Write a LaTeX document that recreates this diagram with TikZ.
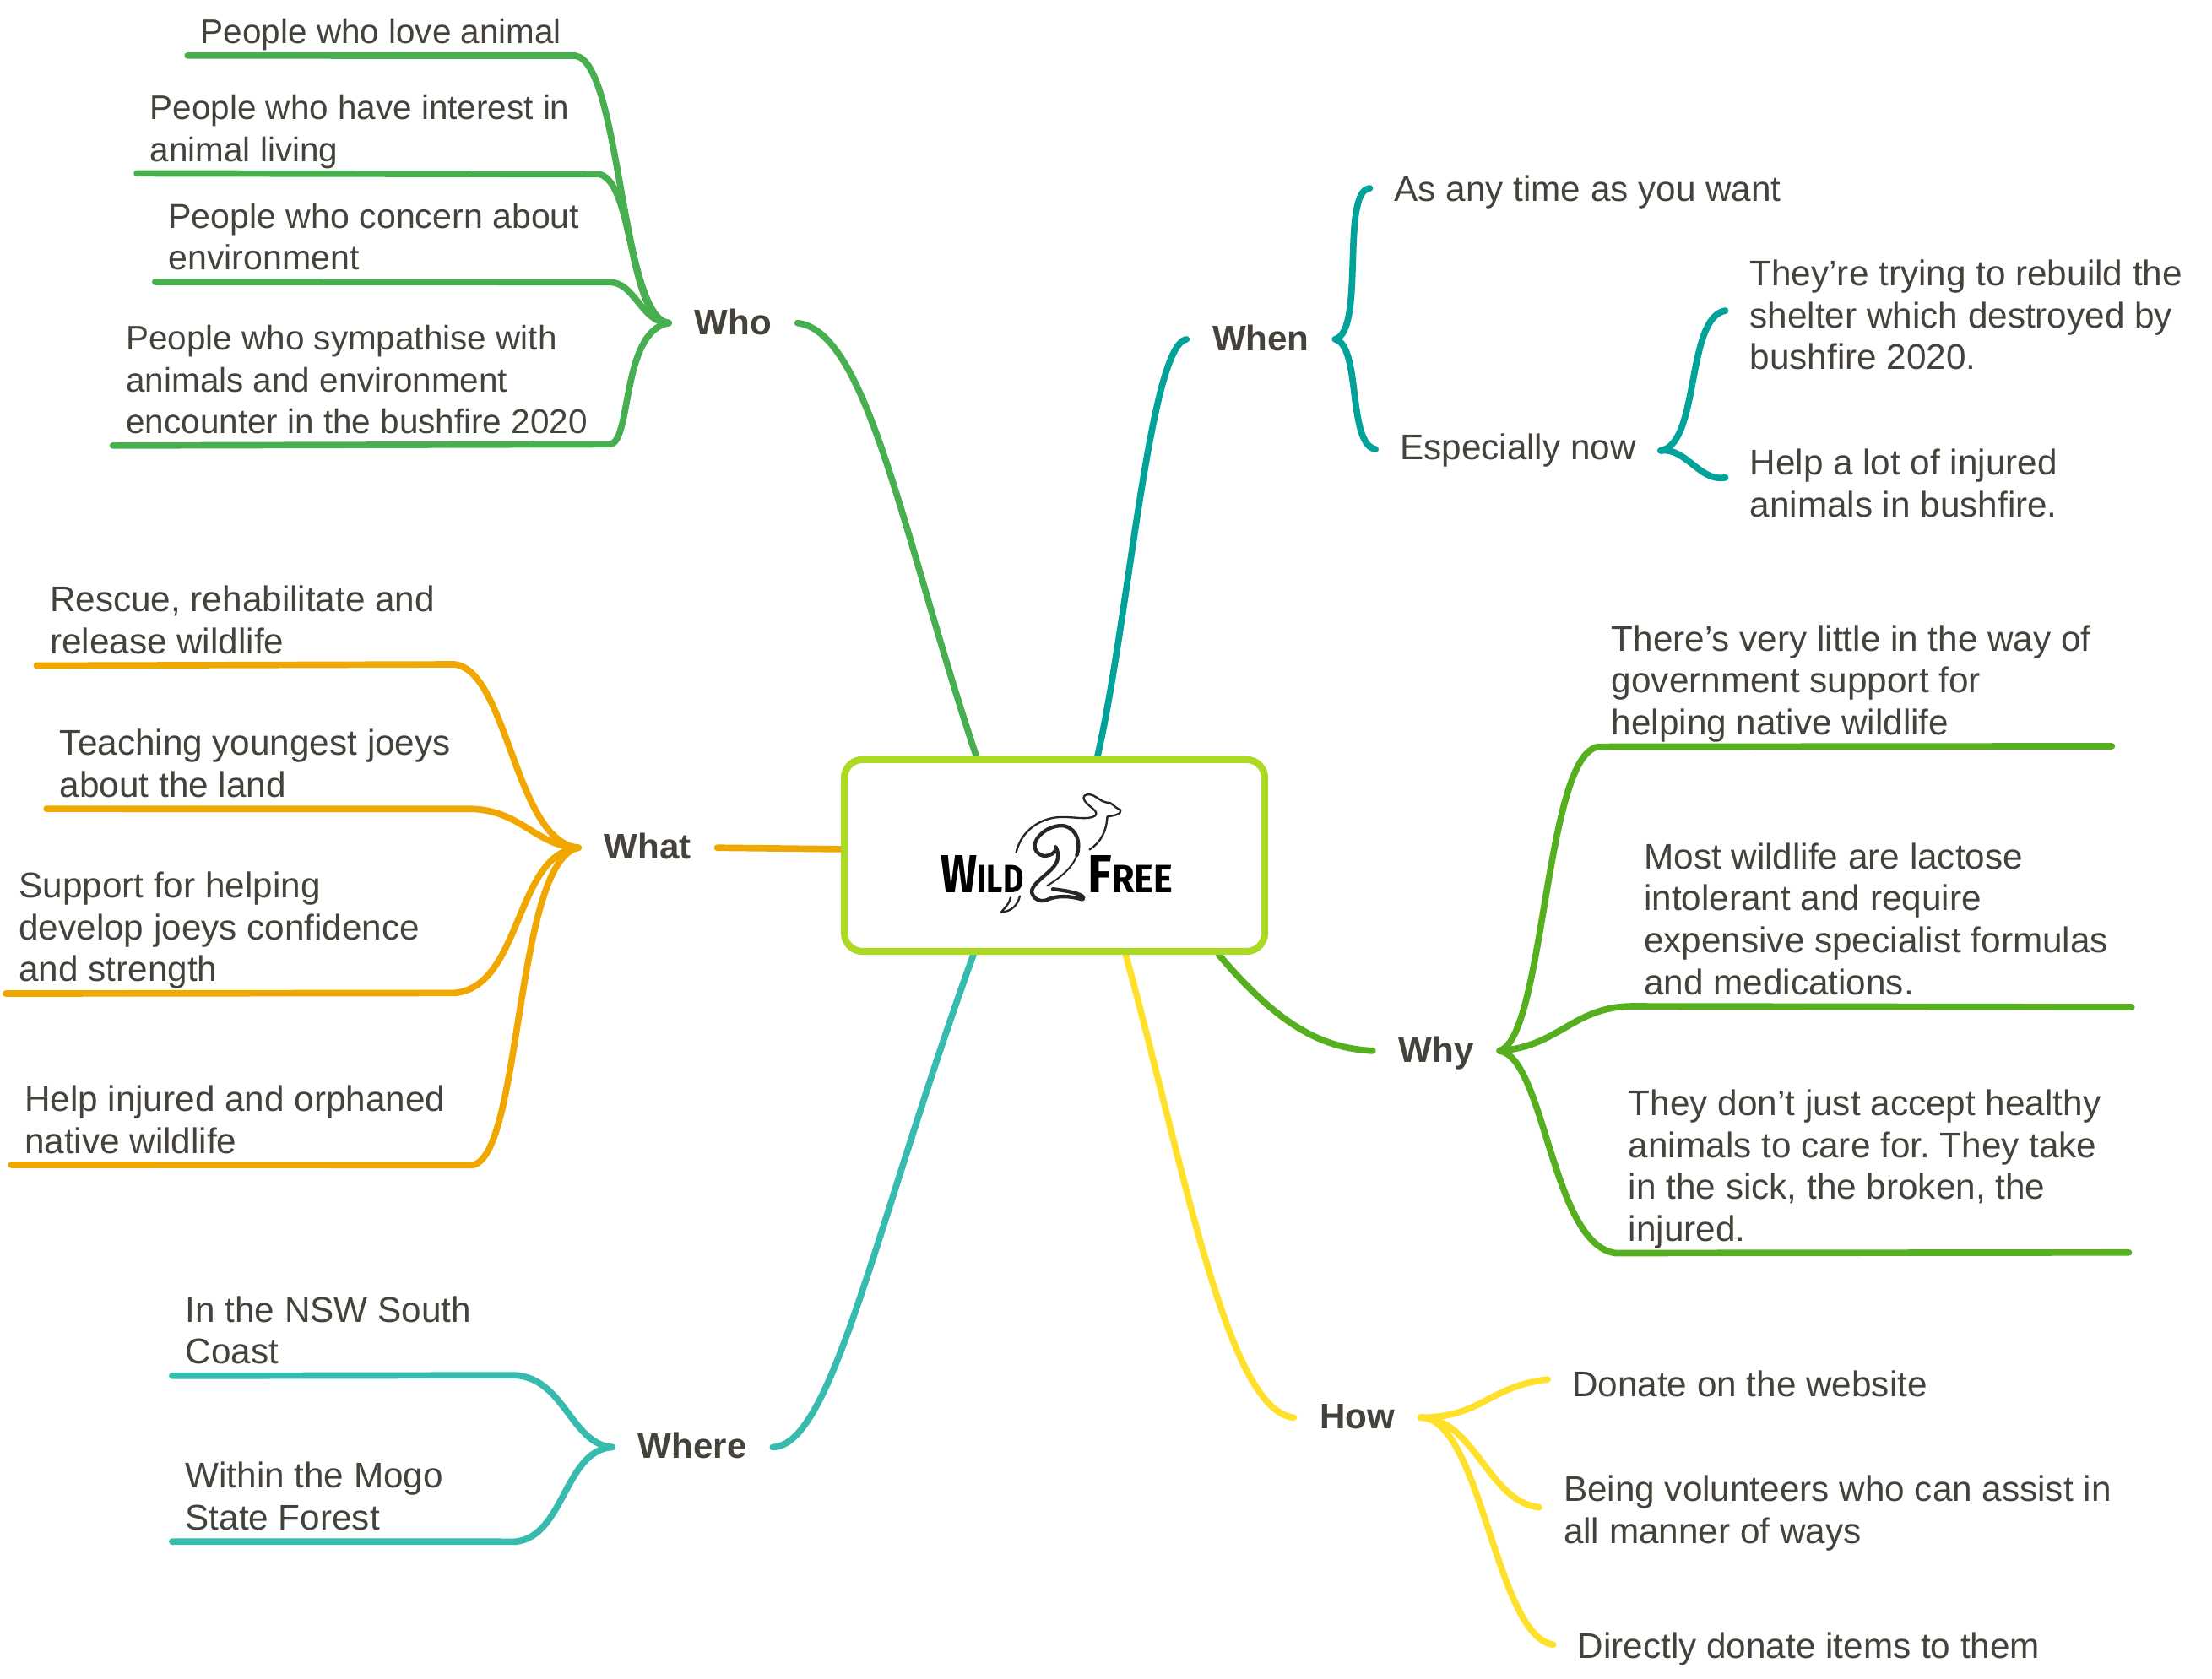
\documentclass[tikz,border=0pt]{standalone}
\usepackage{fontspec}
\setmainfont{Liberation Sans}
\newfontfamily\logofont{Fira Sans}
\usetikzlibrary{backgrounds}
\frenchspacing
\definecolor{txt}{HTML}{45423C}
\definecolor{cwho}{HTML}{48AF50}
\definecolor{cwhen}{HTML}{00A29A}
\definecolor{cwhat}{HTML}{F0A800}
\definecolor{cwhy}{HTML}{56AF1E}
\definecolor{cwhere}{HTML}{36BBAE}
\definecolor{chow}{HTML}{FFE12B}
\definecolor{croot}{HTML}{ABD924}
\tikzset{
  x=0.5pt,y=-0.5pt,
  leaf/.style={anchor=base west,align=left,inner xsep=4.5pt,inner ysep=0pt,text=txt,
    font=\fontsize{12.65}{14.85}\selectfont},
  whoLeaf/.style={leaf,font=\fontsize{12.1}{14.85}\selectfont},
  plainleaf/.style={leaf,inner xsep=8.5pt},
  topic/.style={anchor=base west,inner xsep=9pt,inner ysep=0pt,text height=11pt,text depth=3pt,
    text=txt,font=\fontsize{12.6}{14.85}\selectfont\bfseries},
  conn/.style={line width=2.3pt,line cap=round,line join=round},
  rootbox/.style={draw=croot,fill=white,line width=2.45pt,rounded corners=6.5pt,
    minimum width=149pt,minimum height=68pt,inner sep=0pt},
  ul/.style={yshift=-4.2pt}
}
\begin{document}
\begin{tikzpicture}
\useasboundingbox (0,0) rectangle (1568,1189.8);
% root
\node[rootbox] (root) at (747.5,606.5) {};
% logo
\begin{scope}[shift={(591.3,527.3)},x=0.1pt,y=-0.1pt]
  \node[anchor=base west,inner sep=0pt,text=black,xscale=0.8] (logoW) at (378,527)
    {\logofont\bfseries\fontsize{19}{19}\selectfont W\fontsize{14}{14}\selectfont ILD};
  \node[anchor=base west,inner sep=0pt,text=black,xscale=0.92] (logoF) at (898,527)
    {\logofont\bfseries\fontsize{19}{19}\selectfont F\fontsize{14}{14}\selectfont REE};
  \draw[line width=0.7pt,line cap=round,line join=round,color=black!85]
    (645,385) .. controls (665,300) and (740,262) .. (800,260)
    .. controls (850,258) and (900,272) .. (925,255)
    .. controls (940,240) and (905,225) .. (890,205)
    .. controls (875,185) and (890,175) .. (915,182)
    .. controls (935,190) and (945,205) .. (965,208)
    .. controls (985,205) and (990,225) .. (1015,235)
    .. controls (1020,250) and (990,255) .. (968,258)
    .. controls (965,310) and (945,350) .. (905,375);
  \draw[line width=1.3pt,line cap=round,line join=round,color=black!85]
    (745,398) .. controls (715,392) and (700,365) .. (720,335)
    .. controls (745,300) and (790,285) .. (820,292)
    .. controls (860,305) and (875,350) .. (860,395);
  \draw[line width=0.6pt,line cap=round,color=black!85]
    (860,395) .. controls (850,430) and (810,470) .. (755,503);
  \draw[line width=1.3pt,line cap=round,line join=round,color=black!85]
    (745,398) .. controls (770,395) and (790,385) .. (785,365)
    .. controls (800,395) and (795,420) .. (770,445)
    .. controls (745,470) and (700,500) .. (700,525)
    .. controls (705,550) and (730,562) .. (750,555)
    .. controls (790,535) and (840,540) .. (880,552)
    .. controls (895,540) and (860,525) .. (775,515);
  \draw[line width=0.7pt,line cap=round,line join=round,color=black!85]
    (625,545) .. controls (620,570) and (605,580) .. (592,597)
    .. controls (625,595) and (650,575) .. (658,540);
\end{scope}
% topics
\node[topic] (who) at (474,237) {Who};
\node[topic] (when) at (841,248.5) {When};
\node[topic] (what) at (410,609) {What};
\node[topic] (why) at (973,753) {Why};
\node[topic] (where) at (434,1034) {Where};
\node[topic] (how) at (917,1013) {How};
% who
\node[whoLeaf] (who1) at (133,31) {People who love animal};
\node[whoLeaf] (who2) at (97,114.5) {People who have interest in\\animal living};
\node[whoLeaf,font=\fontsize{12.3}{14.85}\selectfont] (who3) at (110,191.5) {People who concern about\\environment};
\node[whoLeaf] (who4) at (80,307.5) {People who sympathise with\\animals and environment\\encounter in the bushfire 2020};
% when
\node[plainleaf] (when1) at (971,143) {As any time as you want};
\node[plainleaf] (when2) at (975,326) {Especially now};
\node[plainleaf] (now1) at (1223,262) {They’re trying to rebuild the\\shelter which destroyed by\\bushfire 2020.};
\node[plainleaf] (now2) at (1223,366.5) {Help a lot of injured\\animals in bushfire.};
% what
\node[leaf] (what1) at (26,463.5) {Rescue, rehabilitate and\\release wildlife};
\node[leaf] (what2) at (33,565) {Teaching youngest joeys\\about the land};
\node[leaf] (what3) at (4,696) {Support for helping\\develop joeys confidence\\and strength};
\node[leaf] (what4) at (8,817.5) {Help injured and orphaned\\native wildlife};
% why
\node[leaf] (why1) at (1133,521) {There’s very little in the way of\\government support for\\helping native wildlife};
\node[leaf] (why2) at (1156,705) {Most wildlife are lactose\\intolerant and require\\expensive specialist formulas\\and medications.};
\node[leaf] (why3) at (1145,880) {They don’t just accept healthy\\animals to care for. They take\\in the sick, the broken, the\\injured.};
% where
\node[leaf] (where1) at (122,967) {In the NSW South\\Coast};
\node[leaf] (where2) at (122,1084.5) {Within the Mogo\\State Forest};
% how
\node[plainleaf] (how1) at (1097,990) {Donate on the website};
\node[plainleaf] (how2) at (1091,1094) {Being volunteers who can assist in\\all manner of ways};
\node[plainleaf] (how3) at (1101,1175.5) {Directly donate items to them};
\begin{scope}[on background layer]
% who
\draw[conn,cwho] (who.east) .. controls (615,235) and (640,380) .. ([xshift=-27.75pt]root.north);
\draw[conn,cwho] (who.west) .. controls (440,225) and (440,45) .. (408,39.5) -- ([ul]who1.base west);
\draw[conn,cwho] (who.west) .. controls (445,225) and (450,130) .. (425,123.5) -- ([ul]who2.base west);
\draw[conn,cwho] (who.west) .. controls (455,229) and (450,200) .. (432,200) -- ([ul]who3.base west);
\draw[conn,cwho] (who.west) .. controls (440,235) and (448,315) .. (432,315) -- ([ul]who4.base west);
% when
\draw[conn,cwhen] (when.west) .. controls (815,245) and (800,440) .. ([xshift=15.25pt]root.north);
\draw[conn,cwhen] (when.east) .. controls (968,235) and (950,135) .. ([yshift=1.5pt]when1.west);
\draw[conn,cwhen] (when.east) .. controls (965,245) and (955,315) .. ([yshift=0.5pt]when2.west);
\draw[conn,cwhen] (when2.east) .. controls (1205,315) and (1195,225) .. ([yshift=1.5pt]now1.west);
\draw[conn,cwhen] (when2.east) .. controls (1195,317) and (1205,342) .. ([yshift=2pt]now2.west);
% what
\draw[conn,cwhat] (what.east) -- ([yshift=2.25pt]root.west);
\draw[conn,cwhat] (what.west) .. controls (365,597) and (360,475) .. (322,471) -- ([ul]what1.base west);
\draw[conn,cwhat] (what.west) .. controls (380,600) and (370,575) .. (335,573.5) -- ([ul]what2.base west);
\draw[conn,cwhat] (what.west) .. controls (365,605) and (370,700) .. (322,704) -- ([ul]what3.base west);
\draw[conn,cwhat] (what.west) .. controls (365,610) and (370,820) .. (335,826) -- ([ul]what4.base west);
% why
\draw[conn,cwhy] (why.west) .. controls (935,743) and (905,725) .. ([xshift=58.25pt]root.south);
\draw[conn,cwhy] (why.east) .. controls (1095,735) and (1095,535) .. ([ul]why1.base west) -- (1497,529);
\draw[conn,cwhy] (why.east) .. controls (1105,742) and (1115,714) .. ([ul]why2.base west) -- (1511,714);
\draw[conn,cwhy] (why.east) .. controls (1095,750) and (1100,882) .. ([ul]why3.base west) -- (1509,888);
% where
\draw[conn,cwhere] (where.east) .. controls (590,1025) and (620,870) .. ([xshift=-28.75pt]root.south);
\draw[conn,cwhere] (where.west) .. controls (405,1024) and (400,977) .. (365,975) -- ([ul]where1.base west);
\draw[conn,cwhere] (where.west) .. controls (400,1028) and (400,1090) .. (365,1093) -- ([ul]where2.base west);
% how
\draw[conn,chow] (how.west) .. controls (870,1000) and (840,830) .. ([xshift=25.25pt]root.south);
\draw[conn,chow] (how.east) .. controls (1050,1005) and (1055,983) .. ([yshift=1.5pt]how1.west);
\draw[conn,chow] (how.east) .. controls (1045,1005) and (1055,1065) .. ([yshift=2pt]how2.west);
\draw[conn,chow] (how.east) .. controls (1050,1005) and (1060,1160) .. ([yshift=1.5pt]how3.west);
\end{scope}
\end{tikzpicture}
\end{document}
